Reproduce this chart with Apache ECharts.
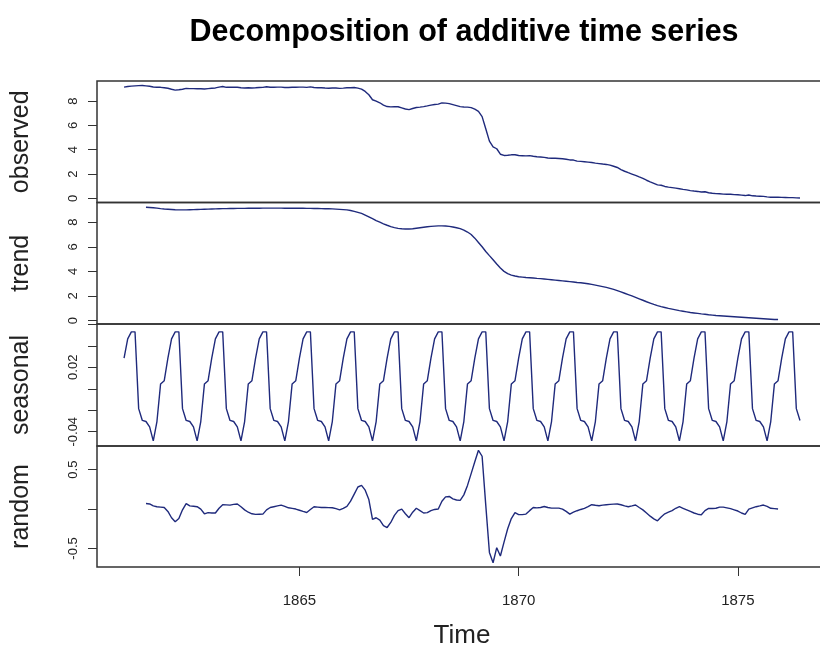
<!DOCTYPE html>
<html><head><meta charset="utf-8">
<script src="https://cdn.jsdelivr.net/npm/echarts@6/dist/echarts.min.js"></script>
<style>html,body{margin:0;padding:0;background:#fff}#c{width:820px;height:646px}</style>
</head><body><div id="c"></div>
<script>
// Monthly series, Jan 1861 .. Jun 1876 (frequency 12)
const startYear = 1861;
const frequency = 12;
const xTickValues = [1865, 1870, 1875];

const observed = [
  9.15, 9.20, 9.23, 9.25, 9.27, 9.28, 9.25, 9.22, 9.16, 9.14, 9.13, 9.10,
  9.05, 8.97, 8.90, 8.93, 8.97, 9.04, 9.02, 9.02, 9.01, 9.01, 8.99, 9.02,
  9.05, 9.08, 9.15, 9.20, 9.13, 9.13, 9.14, 9.14, 9.10, 9.08, 9.09, 9.08,
  9.09, 9.11, 9.13, 9.18, 9.14, 9.14, 9.15, 9.15, 9.12, 9.12, 9.14, 9.14,
  9.15, 9.15, 9.13, 9.17, 9.12, 9.10, 9.09, 9.07, 9.06, 9.07, 9.07, 9.04,
  9.06, 9.09, 9.10, 9.12, 9.06, 8.98, 8.79, 8.52, 8.11, 7.99, 7.86, 7.67,
  7.55, 7.52, 7.53, 7.53, 7.44, 7.35, 7.30, 7.39, 7.47, 7.50, 7.54, 7.60,
  7.67, 7.72, 7.75, 7.85, 7.83, 7.79, 7.71, 7.63, 7.54, 7.51, 7.50, 7.46,
  7.33, 7.15, 6.72, 5.72, 4.71, 4.24, 4.08, 3.63, 3.53, 3.54, 3.58, 3.59,
  3.52, 3.51, 3.49, 3.51, 3.46, 3.42, 3.40, 3.37, 3.32, 3.30, 3.30, 3.28,
  3.26, 3.22, 3.16, 3.15, 3.06, 3.04, 3.01, 2.98, 2.95, 2.90, 2.86, 2.82,
  2.79, 2.73, 2.64, 2.54, 2.37, 2.23, 2.11, 2.00, 1.89, 1.76, 1.64, 1.49,
  1.36, 1.24, 1.11, 1.08, 0.98, 0.92, 0.88, 0.84, 0.79, 0.74, 0.70, 0.64,
  0.60, 0.57, 0.52, 0.54, 0.46, 0.42, 0.39, 0.38, 0.35, 0.34, 0.34, 0.31,
  0.30, 0.27, 0.23, 0.28, 0.21, 0.19, 0.18, 0.16, 0.12, 0.09, 0.10, 0.09,
  0.08, 0.07, 0.06, 0.06, 0.04, 0.03
];

const trend = [
  null, null, null, null, null, null, 9.21, 9.19, 9.17, 9.14, 9.10, 9.07,
  9.05, 9.03, 9.01, 9.00, 9.00, 9.00, 9.01, 9.02, 9.03, 9.04, 9.05, 9.06,
  9.07, 9.08, 9.09, 9.10, 9.10, 9.11, 9.11, 9.12, 9.12, 9.12, 9.13, 9.13,
  9.13, 9.13, 9.14, 9.14, 9.14, 9.14, 9.14, 9.14, 9.13, 9.13, 9.13, 9.13,
  9.13, 9.13, 9.12, 9.12, 9.11, 9.11, 9.10, 9.09, 9.09, 9.08, 9.06, 9.04,
  9.02, 9.00, 8.95, 8.88, 8.80, 8.71, 8.58, 8.44, 8.29, 8.13, 8.00, 7.87,
  7.75, 7.64, 7.56, 7.50, 7.46, 7.44, 7.44, 7.47, 7.51, 7.55, 7.59, 7.63,
  7.66, 7.68, 7.70, 7.70, 7.69, 7.66, 7.61, 7.55, 7.48, 7.36, 7.20, 7.00,
  6.70, 6.35, 6.00, 5.62, 5.28, 4.95, 4.60, 4.27, 4.00, 3.82, 3.70, 3.62,
  3.56, 3.53, 3.50, 3.48, 3.46, 3.43, 3.41, 3.38, 3.35, 3.32, 3.29, 3.26,
  3.23, 3.20, 3.17, 3.14, 3.10, 3.07, 3.03, 2.99, 2.94, 2.88, 2.82, 2.76,
  2.70, 2.62, 2.53, 2.43, 2.33, 2.22, 2.11, 2.00, 1.89, 1.77, 1.65, 1.53,
  1.42, 1.31, 1.21, 1.13, 1.06, 0.99, 0.93, 0.87, 0.81, 0.76, 0.71, 0.66,
  0.62, 0.58, 0.54, 0.51, 0.47, 0.44, 0.41, 0.39, 0.37, 0.35, 0.33, 0.31,
  0.29, 0.27, 0.25, 0.23, 0.21, 0.19, 0.17, 0.15, 0.13, 0.11, 0.09, 0.08,
  null, null, null, null, null, null
];

// seasonal figure, Jan..Dec (repeats every year)
const seasonalFigure = [0.0285, 0.0465, 0.053, 0.053, -0.0185, -0.0295,
                        -0.0305, -0.0355, -0.0485, -0.0305, 0.0045, 0.0075];

const random = [
  null, null, null, null, null, null, 0.07, 0.065, 0.04, 0.03, 0.025, 0.02,
  -0.03, -0.11, -0.16, -0.12, -0.01, 0.07, 0.04, 0.035, 0.03, 0.0, -0.06, -0.045,
  -0.05, -0.05, 0.01, 0.055, 0.053, 0.05, 0.06, 0.064, 0.03, -0.01, -0.04, -0.06,
  -0.068, -0.066, -0.064, -0.01, 0.02, 0.03, 0.04, 0.05, 0.035, 0.016, 0.008, 0.0,
  -0.015, -0.03, -0.043, -0.005, 0.03, 0.025, 0.02, 0.02, 0.018, 0.016, 0.005, -0.01,
  0.01, 0.035, 0.1, 0.19, 0.28, 0.3, 0.24, 0.12, -0.13, -0.11, -0.14, -0.21,
  -0.234, -0.17, -0.08, -0.02, 0.0, -0.06, -0.11, -0.04, 0.01, -0.02, -0.05, -0.045,
  -0.02, -0.005, 0.0, 0.1, 0.155, 0.16, 0.13, 0.115, 0.11, 0.18, 0.3, 0.45,
  0.6, 0.745, 0.67, 0.05, -0.55, -0.681, -0.49, -0.596, -0.42, -0.25, -0.12, -0.045,
  -0.07, -0.07, -0.064, -0.02, 0.02, 0.015, 0.02, 0.033, 0.02, 0.012, 0.012, 0.012,
  0.0, -0.03, -0.064, -0.04, -0.021, -0.005, 0.008, 0.03, 0.055, 0.048, 0.042, 0.05,
  0.055, 0.06, 0.062, 0.064, 0.055, 0.04, 0.03, 0.04, 0.051, 0.02, -0.01, -0.05,
  -0.09, -0.125, -0.149, -0.1, -0.06, -0.04, -0.02, 0.01, 0.03, 0.01, -0.01, -0.03,
  -0.05, -0.065, -0.073, -0.02, 0.008, 0.008, 0.01, 0.025, 0.025, 0.015, 0.005, -0.01,
  -0.025, -0.05, -0.068, 0.0, 0.015, 0.03, 0.04, 0.051, 0.035, 0.01, 0.005, 0.0,
  null, null, null, null, null, null
];

const panelNames = ['observed', 'trend', 'seasonal', 'random'];
const yTicks = [[0, 2, 4, 6, 8], [0, 2, 4, 6, 8], [-0.04, -0.02, 0, 0.02, 0.04, 0.06], [-0.5, 0, 0.5]];
const yLabels = [[0, 2, 4, 6, 8], [0, 2, 4, 6, 8], [-0.04, 0.02], [-0.5, 0.5]];

// ---- build ----
const time = observed.map((_, i) => startYear + i / frequency);
const seasonal = time.map((_, i) => seasonalFigure[i % frequency]);
const panels = [observed, trend, seasonal, random];
const toPairs = arr => arr.map((v, i) => [time[i], v]);

const yRanges = [[-0.34, 9.65], [-0.28, 9.6], [-0.0533, 0.0603], [-0.735, 0.80]];
const gridTops = [81, 202.5, 324, 446];
const gridHeights = [121.5, 121.5, 122, 121];
const FONT = '"Liberation Sans", Arial, Helvetica, sans-serif';
const LINE = '#1f2a7c';
const FRAME = '#333';

const grids = [], xAxes = [], yAxes = [], series = [];
for (let k = 0; k < 4; k++) {
  grids.push({left: 97, width: 730, top: gridTops[k], height: gridHeights[k],
    outerBoundsMode: 'none', containLabel: false,
    show: true, borderColor: FRAME, borderWidth: 1.5, backgroundColor: 'transparent'});
  const last = k === 3;
  xAxes.push({type: 'value', gridIndex: k, min: 1860.383, max: 1877.033,
    axisLine: {show: false, onZero: false}, splitLine: {show: false},
    axisTick: {show: last, length: 9, lineStyle: {color: FRAME, width: 1}, customValues: xTickValues},
    axisLabel: {show: last, customValues: xTickValues, margin: 26, fontSize: 15, color: '#222', fontFamily: FONT,
      formatter: v => String(v)},
    name: last ? 'Time' : '', nameLocation: 'middle', nameGap: 56,
    nameTextStyle: {fontSize: 26, color: '#222', fontFamily: FONT}});
  yAxes.push({type: 'value', gridIndex: k, min: yRanges[k][0], max: yRanges[k][1],
    axisLine: {show: false, onZero: false}, splitLine: {show: false},
    axisTick: {show: true, length: 9, lineStyle: {color: FRAME, width: 1}, customValues: yTicks[k]},
    axisLabel: {rotate: 90, customValues: yLabels[k], margin: 17, fontSize: 13, color: '#222', fontFamily: FONT,
      formatter: v => String(v)},
    name: panelNames[k], nameLocation: 'middle', nameRotate: 90, nameGap: 63,
    nameTextStyle: {fontSize: 25, color: '#222', fontFamily: FONT}});
  series.push({type: 'line', xAxisIndex: k, yAxisIndex: k, data: toPairs(panels[k]),
    showSymbol: false, symbol: 'none', connectNulls: false,
    lineStyle: {color: LINE, width: 1.4}, silent: true});
}

const chart = echarts.init(document.getElementById('c'), null, {renderer: 'canvas'});
chart.setOption({
  animation: false,
  backgroundColor: '#fff',
  title: {text: 'Decomposition of additive time series', left: 459, top: 12, textAlign: 'center',
    textStyle: {fontSize: 30.5, fontWeight: 'bold', color: '#000', fontFamily: FONT}},
  grid: grids, xAxis: xAxes, yAxis: yAxes, series: series
});
</script></body></html>
